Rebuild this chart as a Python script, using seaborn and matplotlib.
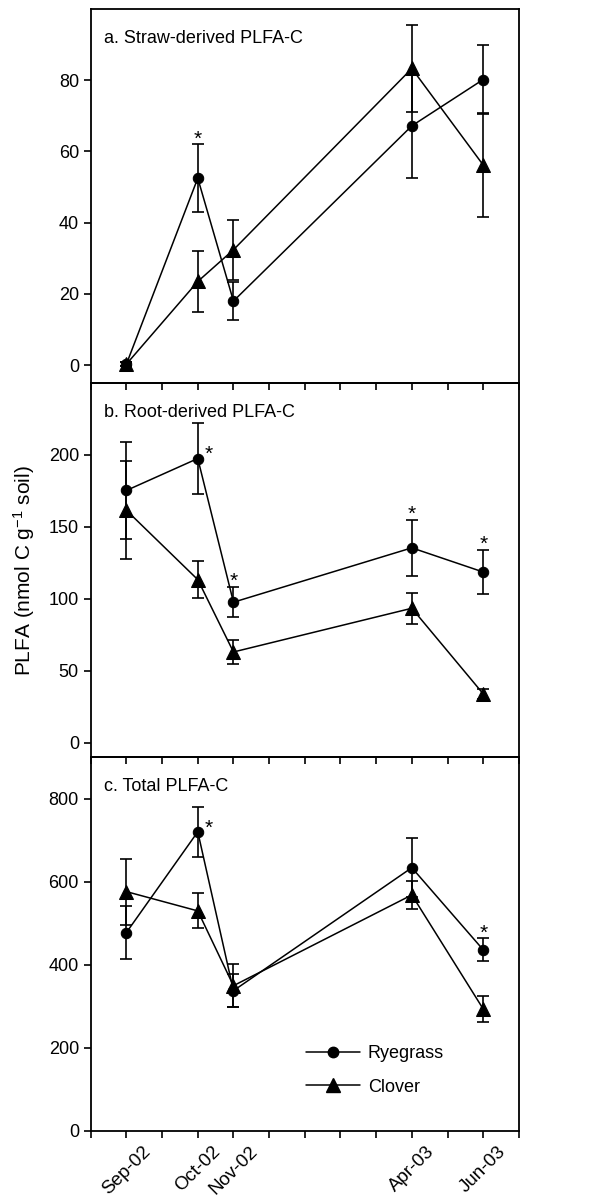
import pandas as pd
import seaborn as sns
import matplotlib.pyplot as plt
from matplotlib.lines import Line2D

sns.set_style('ticks')
plt.rcParams['font.family'] = ['Liberation Sans', 'DejaVu Sans']
plt.rcParams['mathtext.fontset'] = 'custom'
plt.rcParams['mathtext.rm'] = 'Liberation Sans'
plt.rcParams['mathtext.default'] = 'regular'
plt.rcParams['text.color'] = 'black'
plt.rcParams['axes.labelcolor'] = 'black'
plt.rcParams['xtick.color'] = 'black'
plt.rcParams['ytick.color'] = 'black'

# sampling dates, placed on a monthly axis (Aug-02 = 0 ... Aug-03 = 12)
months = ['Sep-02', 'Oct-02', 'Nov-02', 'Apr-03', 'Jun-03']
month_pos = [1, 3, 4, 9, 11]

titles = ['a. Straw-derived PLFA-C', 'b. Root-derived PLFA-C', 'c. Total PLFA-C']

# a. straw-derived
straw_rye = [0.3, 52.5, 18.0, 67.2, 80.2]
straw_rye_se = [0.5, 9.5, 5.3, 14.6, 9.8]
straw_clo = [0.3, 23.5, 32.4, 83.3, 56.2]
straw_clo_se = [0.5, 8.5, 8.4, 12.3, 14.5]

# b. root-derived
root_rye = [175.3, 197.5, 97.6, 135.4, 118.6]
root_rye_se = [34.0, 25.0, 10.6, 19.6, 15.2]
root_clo = [161.5, 113.3, 63.0, 93.4, 33.9]
root_clo_se = [34.0, 12.9, 8.2, 10.7, 3.7]

# c. total
tot_rye = [477.6, 720.0, 337.6, 633.6, 436.0]
tot_rye_se = [64.8, 60.0, 40.0, 70.4, 28.0]
tot_clo = [576.0, 529.6, 349.6, 568.0, 293.6]
tot_clo_se = [79.5, 42.0, 52.0, 34.0, 31.0]

# significance stars: (index of date, 'above' the error bar or to the 'right' of the point)
stars_a = [(1, 'above')]
stars_b = [(1, 'right'), (2, 'above'), (3, 'above'), (4, 'above')]
stars_c = [(1, 'right'), (4, 'above')]

ylims = [(-5, 100), (-10, 250), (0, 900)]
yticks = [range(0, 81, 20), range(0, 201, 50), range(0, 801, 200)]

panels = [
    (straw_rye, straw_rye_se, straw_clo, straw_clo_se, stars_a),
    (root_rye, root_rye_se, root_clo, root_clo_se, stars_b),
    (tot_rye, tot_rye_se, tot_clo, tot_clo_se, stars_c),
]

fig, axes = plt.subplots(3, 1, figsize=(6.09, 12.01), dpi=100, sharex=True)
fig.subplots_adjust(left=0.149, right=0.852, top=0.9925, bottom=0.0583, hspace=0)

for i, ax in enumerate(axes):
    rye, rye_se, clo, clo_se, stars = panels[i]
    # transparent background so the ticks of the panel above stay visible
    ax.patch.set_alpha(0)
    df = pd.DataFrame({'x': month_pos * 2,
                       'value': rye + clo,
                       'plant': ['Ryegrass'] * 5 + ['Clover'] * 5})
    for plant, mk, ms, vals, se in [('Ryegrass', 'o', 7.5, rye, rye_se),
                                    ('Clover', '^', 10, clo, clo_se)]:
        ax.errorbar(month_pos, vals, yerr=se, fmt='none', ecolor='black',
                    elinewidth=1.2, capsize=4.3, capthick=1.2, zorder=2)
        sns.lineplot(data=df[df['plant'] == plant], x='x', y='value',
                     marker=mk, markersize=ms, color='black', lw=1.1,
                     markeredgecolor='black', ax=ax, legend=False, zorder=3)
    for idx, where in stars:
        if where == 'above':
            ax.annotate('*', (month_pos[idx], rye[idx] + rye_se[idx]),
                        xytext=(0, -3), textcoords='offset points',
                        ha='center', va='bottom', fontsize=15)
        else:
            ax.annotate('*', (month_pos[idx], rye[idx]),
                        xytext=(8, -4), textcoords='offset points',
                        ha='center', va='bottom', fontsize=15)
    ax.text(0.03, 0.922, titles[i], transform=ax.transAxes,
            ha='left', va='center', fontsize=13)
    ax.set_ylim(*ylims[i])
    ax.set_yticks(list(yticks[i]))
    ax.set_xlabel('')
    ax.set_ylabel('')
    for s in ax.spines.values():
        s.set_linewidth(1.3)
        s.set_color('black')
    ax.tick_params(axis='both', direction='out', length=5, width=1.2,
                   labelsize=13, colors='black')

axes[2].set_xlim(0, 12)
axes[2].set_xticks(range(0, 13))
labels = [''] * 13
for m, p in zip(months, month_pos):
    labels[p] = m
axes[2].set_xticklabels(labels, rotation=45, ha='center', fontsize=13.5)

fig.text(0.04, 0.525, r'PLFA (nmol C g$^{-1}$ soil)', rotation=90,
         ha='center', va='center', fontsize=15)

handles = [Line2D([], [], color='black', lw=1.1, marker='o', markersize=7.5),
           Line2D([], [], color='black', lw=1.1, marker='^', markersize=10)]
axes[2].legend(handles, ['Ryegrass', 'Clover'], loc='upper left',
               bbox_to_anchor=(0.502, 0.229), frameon=False, fontsize=13,
               handlelength=3.0, handletextpad=0.45, labelspacing=0.9,
               borderpad=0, borderaxespad=0)

plt.savefig('out.png', dpi=100)
